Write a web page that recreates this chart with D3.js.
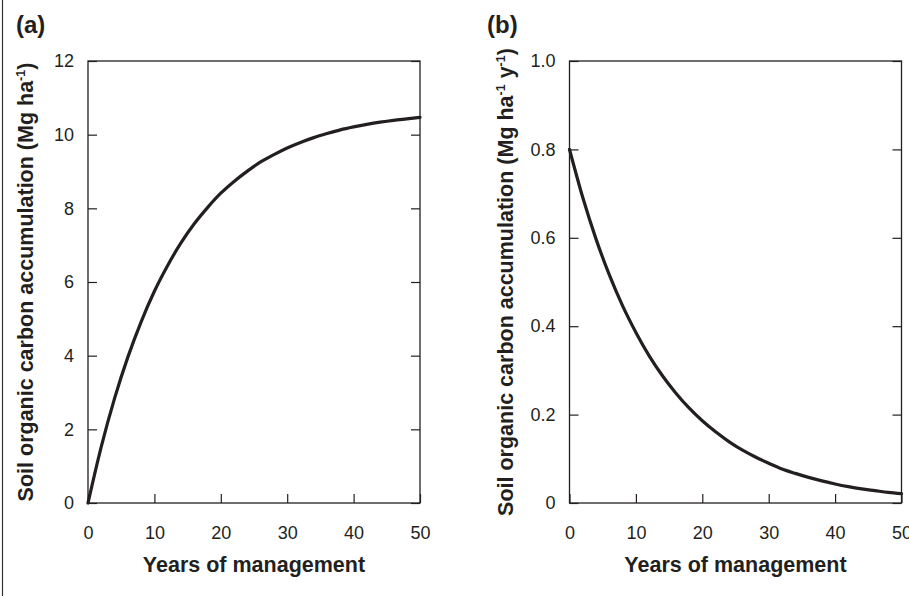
<!DOCTYPE html>
<html>
<head>
<meta charset="utf-8">
<script src="https://cdn.jsdelivr.net/npm/d3@7"></script>
<style>
  html, body { margin: 0; padding: 0; background: #fff; }
  svg { display: block; font-family: "Liberation Sans", Arial, sans-serif; }
</style>
</head>
<body>
<svg id="chart" width="909" height="596"></svg>
<script>
// ---- data ----
const years = [0, 2, 4, 6, 8, 10, 12, 14, 16, 18, 20, 22, 24, 26, 28, 30, 32, 34, 36, 38, 40, 42, 44, 46, 48, 50];
const socStock = [0, 1.53, 2.84, 3.96, 4.92, 5.75, 6.45, 7.06, 7.58, 8.02, 8.41, 8.73, 9.01, 9.26, 9.46, 9.64, 9.79, 9.92, 10.03, 10.13, 10.21, 10.28, 10.34, 10.39, 10.43, 10.47];
const socRate = [0.800, 0.691, 0.597, 0.516, 0.446, 0.386, 0.333, 0.288, 0.249, 0.215, 0.186, 0.161, 0.139, 0.120, 0.104, 0.090, 0.077, 0.067, 0.058, 0.050, 0.043, 0.037, 0.032, 0.028, 0.024, 0.021];
const xTicks = [0, 10, 20, 30, 40, 50];
const yTicksA = [0, 2, 4, 6, 8, 10, 12];
const yTicksB = [0, 0.2, 0.4, 0.6, 0.8, 1.0];
const yTickLabelsB = ["0", "0.2", "0.4", "0.6", "0.8", "1.0"];
const panelLabels = ["(a)", "(b)"];
const xTitle = "Years of management";

const svg = d3.select("#chart");
const ink = "#231f20";
const tickFont = 18;
const titleFont = 21.5;

// left border line of figure frame
svg.append("line").attr("x1", 2.5).attr("x2", 2.5).attr("y1", 0).attr("y2", 596)
  .attr("stroke", "#333").attr("stroke-width", 1.2);

function panel(opts) {
  const { left, right, top, bottom, yDomain, yTicks, yFmt, values, label, titleX, yTitleParts } = opts;
  const x = d3.scaleLinear().domain([0, 50]).range([left, right]);
  const y = d3.scaleLinear().domain(yDomain).range([bottom, top]);
  const g = svg.append("g");

  // left axis
  g.append("g").attr("transform", `translate(${left},0)`)
    .call(d3.axisLeft(y).tickValues(yTicks).tickFormat(yFmt).tickSizeInner(-9).tickSizeOuter(0).tickPadding(14))
    .call(a => a.select(".domain").remove())
    .call(a => a.selectAll("line").attr("stroke", ink).attr("stroke-width", 1.2))
    .call(a => a.selectAll("text").attr("fill", ink).attr("font-size", tickFont).attr("font-family", "Liberation Sans, Arial, sans-serif"));
  // right axis (ticks only)
  g.append("g").attr("transform", `translate(${right},0)`)
    .call(d3.axisRight(y).tickValues(yTicks).tickFormat("").tickSizeInner(-9).tickSizeOuter(0))
    .call(a => a.select(".domain").remove())
    .call(a => a.selectAll("line").attr("stroke", ink).attr("stroke-width", 1.2));
  // bottom axis
  g.append("g").attr("transform", `translate(0,${bottom})`)
    .call(d3.axisBottom(x).tickValues(xTicks).tickFormat(d3.format("d")).tickSizeInner(-9).tickSizeOuter(0).tickPadding(23))
    .call(a => a.select(".domain").remove())
    .call(a => a.selectAll("line").attr("stroke", ink).attr("stroke-width", 1.2))
    .call(a => a.selectAll("text").attr("fill", ink).attr("font-size", tickFont).attr("font-family", "Liberation Sans, Arial, sans-serif"));

  // frame
  g.append("rect").attr("x", left).attr("y", top).attr("width", right - left).attr("height", bottom - top)
    .attr("fill", "none").attr("stroke", ink).attr("stroke-width", 1.3);

  // curve
  const line = d3.line().x((d, i) => x(years[i])).y(d => y(d)).curve(d3.curveMonotoneX);
  g.append("path").datum(values).attr("d", line)
    .attr("fill", "none").attr("stroke", ink).attr("stroke-width", 3.2).attr("stroke-linecap", "round");

  // panel label
  g.append("text").attr("x", label.x).attr("y", 33).attr("font-size", 24).attr("font-weight", "bold")
    .attr("fill", ink).text(label.text);

  // x title
  g.append("text").attr("x", (left + right) / 2).attr("y", 572).attr("text-anchor", "middle")
    .attr("font-size", titleFont).attr("font-weight", "bold").attr("fill", ink).text(xTitle);

  // y title
  const t = g.append("text")
    .attr("transform", `translate(${titleX},${(top + bottom) / 2}) rotate(-90)`)
    .attr("text-anchor", "middle").attr("font-size", titleFont).attr("font-weight", "bold").attr("fill", ink);
  yTitleParts.forEach(p => {
    const ts = t.append("tspan").text(p.t);
    if (p.sup) ts.attr("font-size", 12.5).attr("dy", -8);
    else if (p.after) ts.attr("dy", 8);
  });
}

panel({
  left: 88, right: 420, top: 61, bottom: 503,
  yDomain: [0, 12], yTicks: yTicksA, yFmt: d3.format("d"),
  values: socStock, label: { x: 16, text: panelLabels[0] }, titleX: 33,
  yTitleParts: [{ t: "Soil organic carbon accumulation (Mg ha" }, { t: "-1", sup: true }, { t: ")", after: true }]
});

panel({
  left: 569.5, right: 901.5, top: 61, bottom: 503,
  yDomain: [0, 1], yTicks: yTicksB, yFmt: (d, i) => yTickLabelsB[i],
  values: socRate, label: { x: 487, text: panelLabels[1] }, titleX: 513,
  yTitleParts: [{ t: "Soil organic carbon accumulation (Mg ha" }, { t: "-1", sup: true }, { t: " y", after: true }, { t: "-1", sup: true }, { t: ")", after: true }]
});
</script>
</body>
</html>
